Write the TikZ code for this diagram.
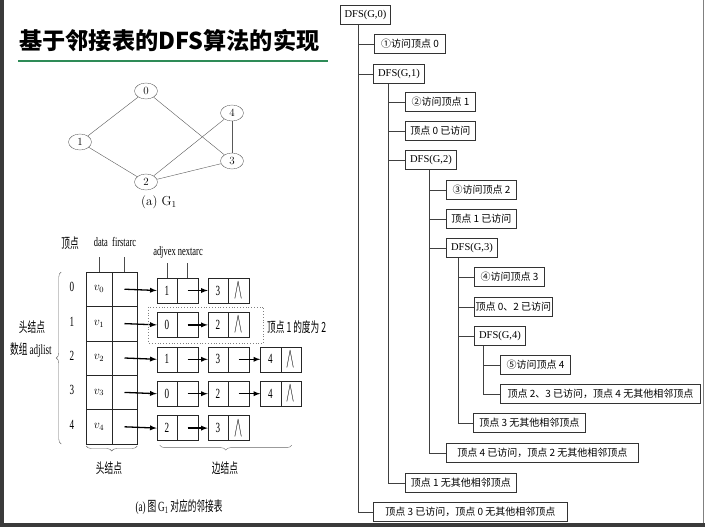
\documentclass[tikz,border=0pt]{standalone}
\usepackage{fontspec}
\usetikzlibrary{positioning, shapes.geometric, decorations.pathreplacing, arrows}
\newfontfamily\cjk{Noto Sans CJK SC}
\newfontfamily\narrowcjk[FakeStretch=0.62]{Noto Sans CJK SC}
\newfontfamily\narrowserif[FakeStretch=0.65]{Liberation Serif}
\newfontfamily\treeserif{Liberation Serif}
\newcommand\nul{\scalebox{0.85}[2]{$\wedge$}}
\definecolor{titlegreen}{RGB}{46,139,87}
\definecolor{framegray}{RGB}{58,58,58}

\tikzset{
  vtx/.style = {draw=black!60, ellipse, minimum width=23pt, minimum height=16pt, inner sep=0pt, font=\fontsize{11}{12}\selectfont},
  hcell/.style = {draw=black!85, minimum width=25.5pt, minimum height=34.4pt, inner sep=0pt, outer sep=0pt, font=\fontsize{12}{13}\selectfont},
  ecell/.style = {draw=black!85, minimum width=20.5pt, minimum height=25pt, inner sep=0pt, outer sep=0pt, font=\narrowserif\fontsize{14}{16}\selectfont},
  tbox/.style = {draw=black!80, line width=0.9pt, minimum height=19.5pt, inner sep=0pt, anchor=west, font=\cjk\fontsize{10}{12}\selectfont},
  dfsbox/.style = {tbox, font=\treeserif\fontsize{10.5}{12}\selectfont},
  treeline/.style = {draw=black!75, line width=0.8pt},
  link/.style = {->, >=latex, line width=1.3pt},
  note/.style = {inner sep=1pt, font=\narrowcjk\fontsize{14}{16}\selectfont},
  field/.style = {inner sep=1pt, font=\narrowserif\fontsize{13}{15}\selectfont},
  curly/.style = {draw=black!60, decorate, decoration={brace, amplitude=5pt}},
}

\begin{document}
\begin{tikzpicture}[x=1pt, y=-1pt]
\useasboundingbox (0,0) rectangle (705,527);
% frame
\fill[framegray] (0,0) rectangle (3.5,527);
\fill[framegray] (0,522.5) rectangle (705,527);
\draw[black!50, line width=1.2pt] (703.8,0) -- (703.8,522.5);

% title
\node[anchor=west, inner sep=0pt, font=\cjk\bfseries\fontsize{23.2}{26}\selectfont] (title) at (19,41) {基于邻接表的DFS算法的实现};
\draw[titlegreen, line width=2.2pt] (18,61) -- (328,61);

% graph G1
\node[vtx] (g0) at (146,91) {0};
\node[vtx] (g4) at (232,113) {4};
\node[vtx] (g1) at (80,142) {1};
\node[vtx] (g3) at (232,161) {3};
\node[vtx] (g2) at (146,182) {2};
\node[font=\fontsize{13}{14}\selectfont] (gcap) at (159,202) {(a)\ G$_1$};
\foreach \a/\b in {0/1, 0/3, 1/2, 2/4, 2/3, 4/3}
  \draw[black!65] (g\a) -- (g\b);

% adjacency list, head nodes
\foreach \rw in {0,...,4}{
  \node[hcell] (ha\rw) at (99, 289.2+34.4*\rw) {$v_{\rw}$};
  \node[hcell, right=0pt of ha\rw] (hb\rw) {};
  \node[field, font=\narrowserif\fontsize{14}{16}\selectfont] (idx\rw) at (72, 287+34.4*\rw) {\rw};
}
% edge nodes
\foreach \rw/\col/\xx/\val/\nil in {0/0/167/1/{}, 0/1/218/3/\nul, 1/0/167/0/{}, 1/1/218/2/\nul,
    2/0/167/1/{}, 2/1/218/3/{}, 2/2/270.5/4/\nul, 3/0/167/0/{}, 3/1/218/2/{}, 3/2/270.5/4/\nul,
    4/0/167/2/{}, 4/1/218/3/\nul}{
  \node[ecell] (ea\rw\col) at (\xx, 290.5+34.4*\rw) {\val};
  \node[ecell, right=0pt of ea\rw\col] (eb\rw\col) {\nil};
}
\foreach \rw in {0,...,4}
  \draw[link] (hb\rw.center) -- (ea\rw0.west);
\foreach \rw/\col/\nxt in {0/0/1, 1/0/1, 2/0/1, 2/1/2, 3/0/1, 3/1/2, 4/0/1}
  \draw[link] (eb\rw\col.center) -- (ea\rw\nxt.west);

% field labels
\foreach \c in {ha0, hb0, ea00, eb00}
  \draw[black!70] (\c.north) -- ++(0,-15);
\node[note] (vlab) at (70,243) {顶点};
\node[field] (hfield) at (115,242) {data\ \ firstarc};
\node[field] (efield) at (178,252) {adjvex nextarc};

% degree of vertex 1
\draw[black!50, dotted, line width=0.8pt] ([shift={(-8,-5.5)}]ea10.north west) rectangle ([shift={(15,5.5)}]eb11.south east);
\node[note, anchor=west] (deg) at (266,327) {顶点 1 的度为 2};

% braces
\draw[curly] ([xshift=-25pt]ha4.south west) -- ([xshift=-25pt]ha0.north west);
\node[note] (hd1) at (32,327) {头结点};
\node[note] (hd2) at (31,350) {数组 {\narrowserif adjlist}};
\draw[curly] ([shift={(0,2)}]hb4.south east) -- ([shift={(0,2)}]ha4.south west);
\draw[curly] ([shift={(135,4.5)}]ea40.south west) -- ([shift={(3,4.5)}]ea40.south west);
\node[note] (hd3) at (109,468) {头结点};
\node[note] (ed) at (225,468) {边结点};
\node[note] (acap) at (179,507) {{\narrowserif (a)} 图 {\narrowserif G\textsubscript{1}} 对应的邻接表};

% DFS call tree
\node[dfsbox, minimum width=50pt] (t0) at (340,15) {DFS(G,0)};
\node[tbox, minimum width=71pt] (t1) at (374,44) {①访问顶点 0};
\node[dfsbox, minimum width=51pt] (t2) at (373,74) {DFS(G,1)};
\node[tbox, minimum width=70pt] (t3) at (405,102) {②访问顶点 1};
\node[tbox, minimum width=70pt] (t4) at (405,131) {顶点 0 已访问};
\node[dfsbox, minimum width=51pt] (t5) at (405,160) {DFS(G,2)};
\node[tbox, minimum width=70pt] (t6) at (446,190) {③访问顶点 2};
\node[tbox, minimum width=70pt] (t7) at (446,219) {顶点 1 已访问};
\node[dfsbox, minimum width=51pt] (t8) at (446,248) {DFS(G,3)};
\node[tbox, minimum width=70pt] (t9) at (474,277) {④访问顶点 3};
\node[tbox, minimum width=78pt] (t10) at (474,307) {顶点 0、2 已访问};
\node[dfsbox, minimum width=51pt] (t11) at (474,336) {DFS(G,4)};
\node[tbox, minimum width=70pt] (t12) at (500,365) {⑤访问顶点 4};
\node[tbox, minimum width=200pt] (t13) at (500,394) {顶点 2、3 已访问，顶点 4 无其他相邻顶点};
\node[tbox, minimum width=112pt] (t14) at (473,423) {顶点 3 无其他相邻顶点};
\node[tbox, minimum width=192pt] (t15) at (446,453) {顶点 4 已访问，顶点 2 无其他相邻顶点};
\node[tbox, minimum width=111pt] (t16) at (405,483) {顶点 1 无其他相邻顶点};
\node[tbox, minimum width=194pt] (t17) at (373,512) {顶点 3 已访问，顶点 0 无其他相邻顶点};
\foreach \c in {1,2,17}
  \draw[treeline] ([xshift=18pt]t0.south west) |- (t\c.west);
\foreach \c in {3,4,5,16}
  \draw[treeline] ([xshift=15pt]t2.south west) |- (t\c.west);
\foreach \c in {6,7,8,15}
  \draw[treeline] ([xshift=24pt]t5.south west) |- (t\c.west);
\foreach \c in {9,10,11,14}
  \draw[treeline] ([xshift=12pt]t8.south west) |- (t\c.west);
\foreach \c in {12,13}
  \draw[treeline] ([xshift=9pt]t11.south west) |- (t\c.west);
\end{tikzpicture}
\end{document}
